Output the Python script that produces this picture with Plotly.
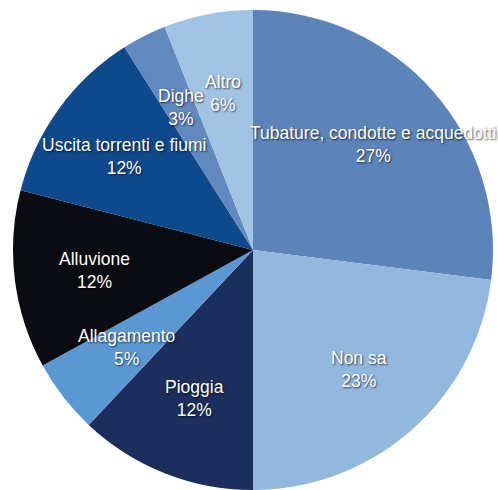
import math
import plotly.graph_objects as go

# Cause categories and shares (%), listed clockwise from 12 o'clock
categorie = [
    "Tubature, condotte e acquedotti",
    "Non sa",
    "Pioggia",
    "Allagamento",
    "Alluvione",
    "Uscita torrenti e fiumi",
    "Dighe",
    "Altro",
]
percentuali = [27, 23, 12, 5, 12, 12, 3, 6]

colori = [
    "#5c84b8",
    "#93b8de",
    "#1c2e5e",
    "#5b98d2",
    "#0b0c11",
    "#0e4a8b",
    "#6189be",
    "#a2c4e4",
]

W, H = 498, 490
CX, CY, R = 253, 250, 240          # pie centre / radius in pixels (from top-left)
LABEL_R = 0.665                     # label distance as a fraction of radius

fig = go.Figure(
    go.Pie(
        labels=categorie,
        values=percentuali,
        marker=dict(colors=colori, line=dict(width=0)),
        sort=False,
        direction="clockwise",
        rotation=0,
        textinfo="none",
        hoverinfo="label+percent",
        showlegend=False,
        domain=dict(x=[(CX - R) / W, (CX + R) / W], y=[0, 2 * R / H]),
    )
)

# Place each two-line label at the mid-angle of its slice
totale = sum(percentuali)
cumulato = 0
annotazioni = []
for nome, val in zip(categorie, percentuali):
    mid = (cumulato + val / 2) / totale * 2 * math.pi
    cumulato += val
    px = CX + LABEL_R * R * math.sin(mid)
    py = CY - LABEL_R * R * math.cos(mid)
    annotazioni.append(
        dict(
            x=px / W,
            y=1 - py / H,
            xref="paper",
            yref="paper",
            xanchor="center",
            yanchor="middle",
            showarrow=False,
            align="center",
            text=f"{nome}<br>{round(val / totale * 100)}%",
            font=dict(
                family="Liberation Sans, Arial, sans-serif",
                size=17.5,
                color="white",
                shadow="1px 1px 2px rgba(0,0,0,0.7)",
            ),
        )
    )

fig.update_layout(
    width=W,
    height=H,
    margin=dict(l=0, r=0, t=0, b=0),
    paper_bgcolor="white",
    plot_bgcolor="white",
    annotations=annotazioni,
)

fig.write_html("out.html")
